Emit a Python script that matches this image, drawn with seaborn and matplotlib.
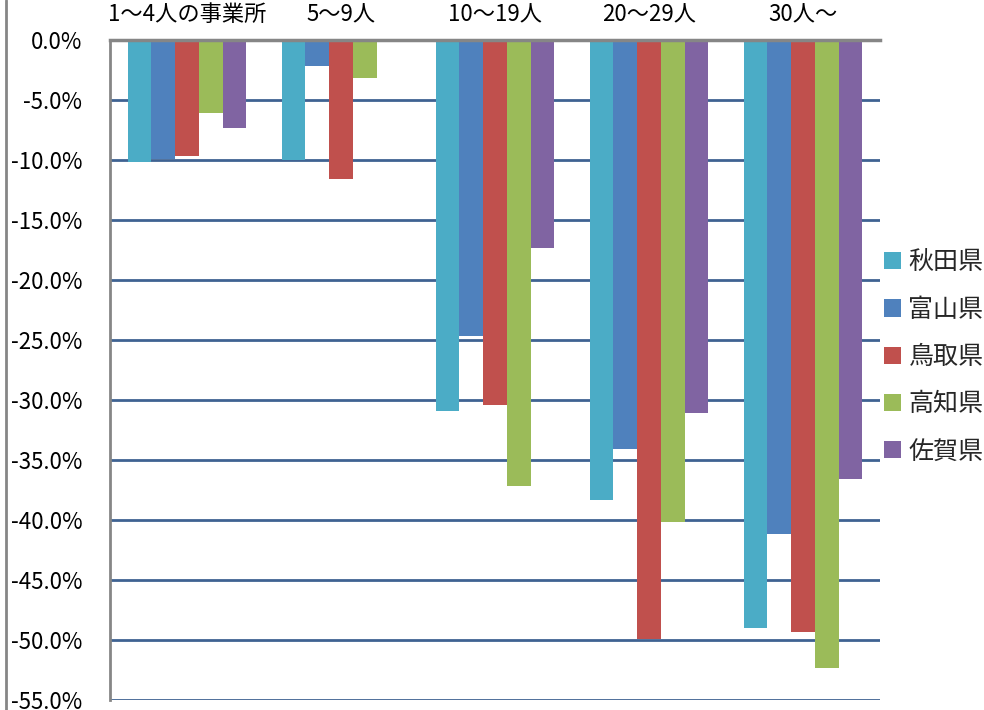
import numpy as np
import pandas as pd
import matplotlib
matplotlib.use("Agg")
import matplotlib.pyplot as plt
import seaborn as sns
from matplotlib.patches import Patch
from matplotlib.lines import Line2D
from matplotlib.ticker import FuncFormatter

categories = ["1～4人の事業所", "5～9人", "10～19人", "20～29人", "30人～"]
prefectures = ["秋田県", "富山県", "鳥取県", "高知県", "佐賀県"]
akita  = [-10.2, -10.0, -30.9, -38.3, -49.0]
toyama = [-9.9, -2.2, -24.7, -34.1, -41.2]
tottori = [-9.7, -11.6, -30.4, -49.9, -49.3]
kochi  = [-6.1, -3.2, -37.2, -40.2, -52.3]
saga   = [-7.3, np.nan, -17.3, -31.1, -36.6]
yticks = [0, -5, -10, -15, -20, -25, -30, -35, -40, -45, -50, -55]
colors = ["#4BACC6", "#4F81BD", "#C0504D", "#9BBB59", "#8064A2"]

series = [akita, toyama, tottori, kochi, saga]
rows = []
for pref, vals in zip(prefectures, series):
    for cat, v in zip(categories, vals):
        rows.append({"cat": cat, "pref": pref, "val": v})
df = pd.DataFrame(rows)

sns.set_theme(style="white")
plt.rcParams["font.family"] = ["Noto Sans CJK JP", "DejaVu Sans"]

fig = plt.figure(figsize=(9.84, 7.10), dpi=100)
ax = fig.add_axes([110/984, 1-700/710, 770/984, 660/710])

sns.barplot(data=df, x="cat", y="val", hue="pref", order=categories,
            hue_order=prefectures, palette=colors, saturation=1,
            width=0.77, gap=0, ax=ax, legend=False, errorbar=None,
            edgecolor="none")

ax.set_ylim(-55, 0)
ax.set_yticks(yticks)
ax.yaxis.set_major_formatter(FuncFormatter(lambda v, p: f"{v:.1f}%" if v != 0 else "0.0%"))
ax.set_axisbelow(True)
ax.yaxis.grid(True, color="#3f6292", linewidth=2)
ax.xaxis.grid(False)
ax.set_xlabel("")
ax.set_ylabel("")
ax.xaxis.tick_top()
ax.tick_params(axis="x", length=0, pad=10, labelsize=16, colors="black")
ax.tick_params(axis="y", length=0, pad=20, labelsize=16, colors="black")

for s in ["right", "bottom"]:
    ax.spines[s].set_visible(False)
ax.spines["top"].set_color("#868686")
ax.spines["top"].set_linewidth(2.5)
ax.spines["left"].set_color("#868686")
ax.spines["left"].set_linewidth(2)

handles = [Patch(facecolor=c, edgecolor="none") for c in colors]
fig.legend(handles, prefectures, loc="center left",
           bbox_to_anchor=(884/984, 1-357/710), frameon=False,
           fontsize=18, handlelength=0.68, handleheight=0.68,
           handletextpad=0.3, labelspacing=0.85, borderpad=0, borderaxespad=0)

fig.add_artist(Line2D([6/984, 6/984], [0, 1], color="#868686", linewidth=2))

fig.savefig("out.png", dpi=100)
